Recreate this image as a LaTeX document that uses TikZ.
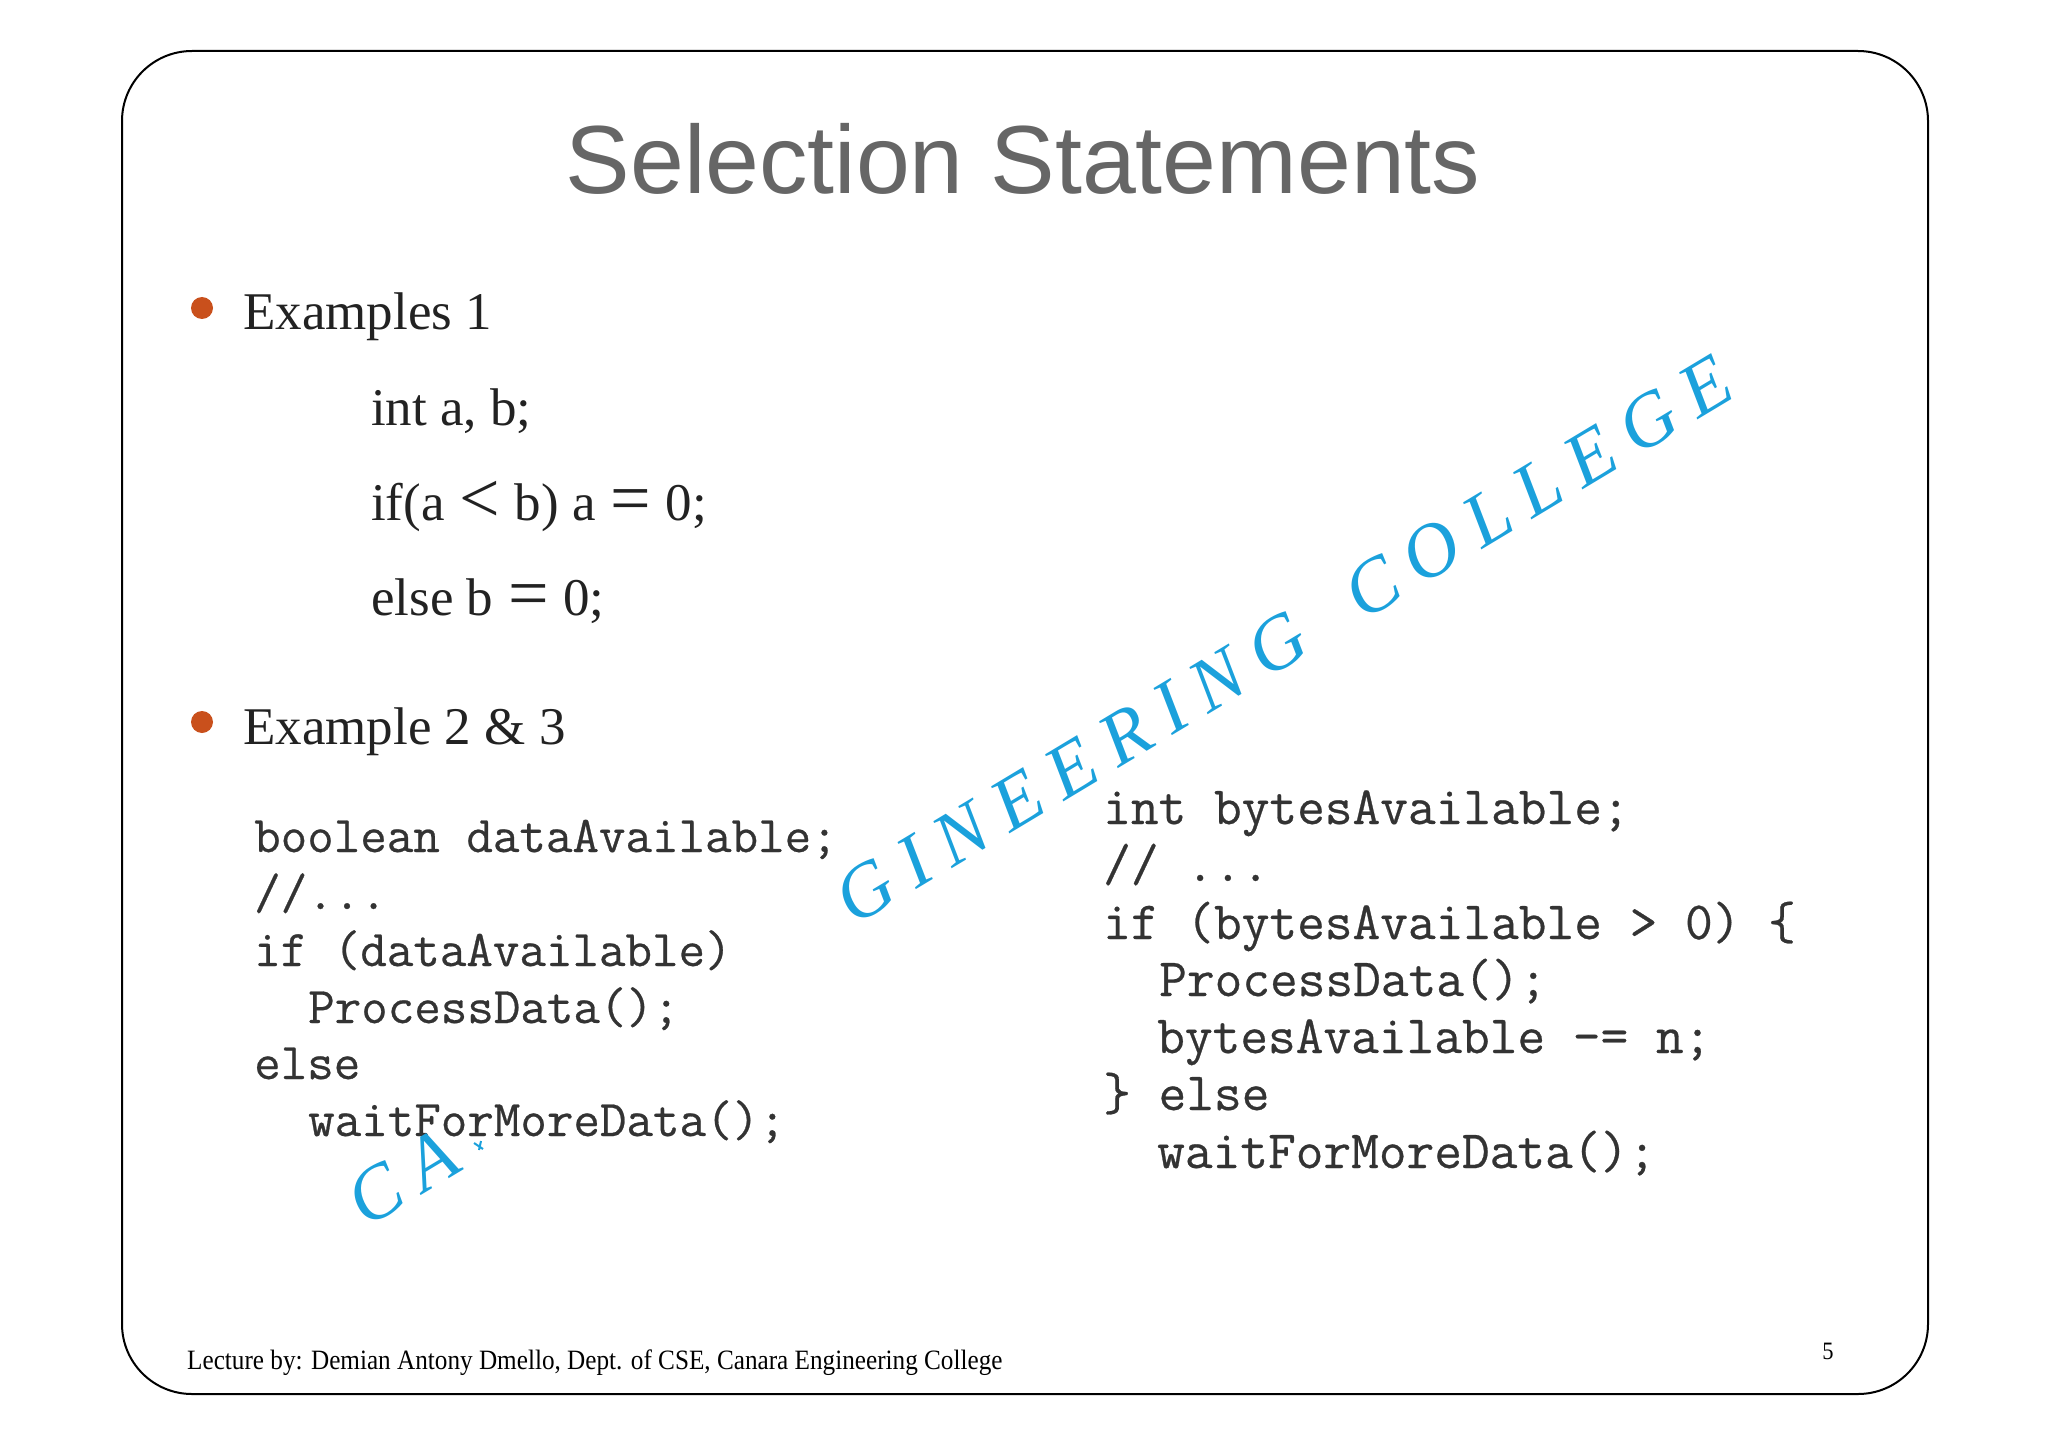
\documentclass[tikz,border=0pt]{standalone}
\usepackage{fontspec}
\usepackage{graphicx}
\setmainfont{Liberation Serif}
\newfontfamily\titlefont{Liberation Sans}
\newfontfamily\markfont[LetterSpace=22]{Liberation Serif}
\newfontfamily\codefont[FakeBold=0.5]{Latin Modern Mono}
\definecolor{titlegray}{HTML}{666666}
\definecolor{bulletorange}{HTML}{C9501C}
\definecolor{markblue}{HTML}{1BA1DC}
\definecolor{codegray}{HTML}{333333}
\definecolor{bodyink}{HTML}{222222}
\newcommand{\bigop}[1]{{\fontsize{72}{72}\selectfont\kern1.5pt\raisebox{-2pt}{#1}\kern1.5pt}}
\tikzset{
  frame/.style={draw=black,line width=2pt,rounded corners=70pt},
  titletext/.style={anchor=base,inner sep=0pt,text=titlegray,font=\titlefont\fontsize{96.8}{100}\selectfont},
  bodytext/.style={anchor=base west,inner sep=0pt,text=bodyink,font=\fontsize{53}{60}\selectfont},
  bulletdot/.style={circle,fill=bulletorange,inner sep=0pt,minimum size=22pt},
  codeleft/.style={anchor=base west,inner sep=0pt,text=codegray,font=\codefont\fontsize{51.5}{56}\selectfont},
  coderight/.style={anchor=base west,inner sep=0pt,text=codegray,font=\codefont\fontsize{53.8}{58}\selectfont},
  marktext/.style={anchor=center,inner sep=0pt,rotate=31,text=markblue,font=\markfont\itshape\fontsize{76}{82}\selectfont},
  foottext/.style={anchor=base west,inner sep=0pt,text=black,font=\fontsize{28}{30}\selectfont},
}
\begin{document}
\begin{tikzpicture}[x=1pt,y=-1pt]
\useasboundingbox (0,0) rectangle (2048,1447);
\draw[frame] (122,51) rectangle (1928,1394);
\node[titletext] (title) at (1023,194) {Selection Statements};
\node[bulletdot] (b1) at (202,308) {};
\node[bodytext] (ex1) at (243,330) {Examples 1};
\node[bodytext] (l1) at (371,425) {int a, b;};
\node[bodytext] (l2) at (371,520) {if(a \bigop{<} b) a \bigop{=} 0;};
\node[bodytext] (l3) at (371,615) {else b \bigop{=} 0;};
\node[bulletdot] (b2) at (202,722) {};
\node[bodytext] (ex2) at (243,744) {Example 2 \& 3};
\node[codeleft] (a1) at (254,852) {boolean dataAvailable;};
\node[codeleft] (a2) at (254,909) {//...};
\node[codeleft] (a3) at (254,966) {if (dataAvailable)};
\node[codeleft] (a4) at (308,1023) {ProcessData();};
\node[codeleft] (a5) at (254,1079) {else};
\node[codeleft] (a6) at (308,1136) {waitForMoreData();};
\node[coderight] (c1) at (1103,824) {int bytesAvailable;};
\node[coderight] (c2) at (1103,881) {// ...};
\node[coderight] (c3) at (1103,939) {if (bytesAvailable > 0) \{};
\node[coderight] (c4) at (1159,996) {ProcessData();};
\node[coderight] (c5) at (1157,1053) {bytesAvailable -= n;};
\node[coderight] (c6) at (1103,1110) {\} else};
\node[coderight] (c7) at (1157,1168) {waitForMoreData();};
\node[marktext] (m1) at (1284,640) {GINEERING\hspace{58pt}COLLEGE};
\node[marktext] (m2) at (403,1178) {CA};
\draw[markblue,line width=2pt] (474,1143) -- (483,1149) (481,1141) -- (479,1150);
\node[foottext] (foot) at (187,1369) {\scalebox{0.9}[1]{Lecture by: Demian Antony Dmello, Dept. of CSE, Canara Engineering College}};
\node[anchor=center,inner sep=0pt,text=black,font=\fontsize{25}{28}\selectfont] (page) at (1828,1351) {\scalebox{0.9}[1]{5}};
\end{tikzpicture}
\end{document}
